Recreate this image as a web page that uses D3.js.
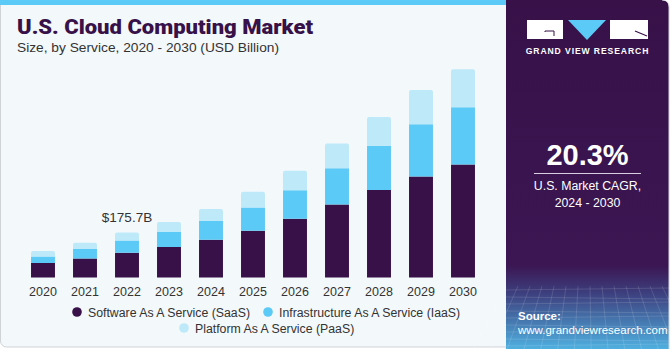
<html>
<head>
<script src="https://d3js.org/d3.v7.min.js"></script>
<style>
  body { margin: 0; background: #fff; }
  text { font-family: "Liberation Sans", Arial, sans-serif; }
</style>
</head>
<body>
<svg id="chart" width="671" height="350"></svg>
<script>
// values (USD Billion)
const years = ['2020','2021','2022','2023','2024','2025','2026','2027','2028','2029','2030'];
const saas  = [57, 74, 96.5, 119, 147, 183, 229, 285, 342, 394, 441];
const iaas  = [25, 37, 48, 60, 74, 90, 112, 142, 172, 204, 224];
const paas  = [21, 25, 31.2, 38, 46, 62, 76, 96, 113, 134, 148];
const seriesNames = ['Software As A Service (SaaS)', 'Infrastructure As A Service (IaaS)', 'Platform As A Service (PaaS)'];
const colors = ['#371148', '#5ccaf6', '#bde9f9'];
const callout = {year: '2022', label: '$175.7B'};

const svg = d3.select('svg#chart');

// panels
const defs = svg.append('defs');
const grad = defs.append('linearGradient').attr('id', 'side').attr('x1', 0).attr('x2', 0).attr('y1', 0).attr('y2', 1);
grad.append('stop').attr('offset', '0%').attr('stop-color', '#371148');
grad.append('stop').attr('offset', '76%').attr('stop-color', '#3b1652');
grad.append('stop').attr('offset', '84%').attr('stop-color', '#3d3f7e');
grad.append('stop').attr('offset', '100%').attr('stop-color', '#4fb0e0');

svg.append('rect').attr('x', 0.5).attr('y', -6).attr('width', 520).attr('height', 353)
  .attr('rx', 6).attr('fill', '#f3f8fb').attr('stroke', '#cfd3d6');
svg.append('rect').attr('x', 0).attr('y', 0).attr('width', 506).attr('height', 5).attr('fill', '#5ccaf6');
svg.append('rect').attr('x', 506).attr('y', 0).attr('width', 163).attr('height', 349)
  .attr('fill', 'url(#side)');
svg.append('path').attr('d', 'M662,0 Q669,0 669,7 L669,349').attr('stroke', '#cfd3d6').attr('fill', 'none');
svg.append('path').attr('d', 'M662,0 Q669,0 669,7 L669,0 Z').attr('fill', '#fff');

// faint grid at the bottom of the side panel
const grid = svg.append('g').attr('stroke', '#ffffff').attr('stroke-opacity', 0.18).attr('stroke-width', 0.7);
d3.range(290, 350, 7).forEach((y, i) => {
  grid.append('line').attr('x1', 506).attr('x2', 669).attr('y1', y).attr('y2', y + (i % 2 ? 2 : -2));
});
d3.range(506, 680, 12).forEach((x, i) => {
  grid.append('line').attr('x1', x).attr('x2', x + (x - 587) * 0.4).attr('y1', 286).attr('y2', 349);
});

// titles
svg.append('text').attr('x', 17).attr('y', 34).text('U.S. Cloud Computing Market')
  .attr('font-size', 20).attr('font-weight', 900).attr('fill', '#371148')
  .attr('textLength', 296).attr('lengthAdjust', 'spacingAndGlyphs')
  .style('font-family', 'Roboto, "Liberation Sans", sans-serif');
svg.append('text').attr('x', 17).attr('y', 52).text('Size, by Service, 2020 - 2030 (USD Billion)')
  .attr('font-size', 13.3).attr('fill', '#333')
  .attr('textLength', 262).attr('lengthAdjust', 'spacingAndGlyphs');

// scales
const x = d3.scaleBand().domain(years).range([22, 484]).paddingInner(0.43).paddingOuter(0.215);
const y = d3.scaleLinear().domain([0, 813]).range([277.5, 69.3]);

const table = years.map((yr, i) => ({year: yr, saas: saas[i], iaas: iaas[i], paas: paas[i]}));
const stack = d3.stack().keys(['saas', 'iaas', 'paas'])(table);

stack.forEach((layer, li) => {
  svg.append('g').selectAll('path').data(layer).join('path')
    .attr('fill', colors[li])
    .attr('d', d => {
      const x0 = x(d.data.year), w = x.bandwidth();
      const y0 = y(d[0]), y1 = y(d[1]);
      const r = li === 2 ? 2 : 0;
      return `M${x0},${y0} L${x0},${y1 + r} Q${x0},${y1} ${x0 + r},${y1} L${x0 + w - r},${y1} Q${x0 + w},${y1} ${x0 + w},${y1 + r} L${x0 + w},${y0} Z`;
    });
});

// callout
const ci = years.indexOf(callout.year);
svg.append('text').attr('x', x(callout.year) + x.bandwidth() / 2)
  .attr('y', y(saas[ci] + iaas[ci] + paas[ci]) - 10.5)
  .attr('text-anchor', 'middle').attr('font-size', 13.5).attr('fill', '#333').text(callout.label);

// x axis
const xAxis = svg.append('g').attr('transform', 'translate(0,279)')
  .call(d3.axisBottom(x).tickSize(0).tickPadding(8));
xAxis.select('.domain').remove();
xAxis.selectAll('text').attr('font-size', 12.5).attr('fill', '#333')
  .style('font-family', '"Liberation Sans", Arial, sans-serif');

// legend
const legendPos = [[77, 312], [268, 312], [184, 328]];
seriesNames.forEach((name, i) => {
  const g = svg.append('g').attr('transform', `translate(${legendPos[i][0]},${legendPos[i][1]})`);
  g.append('circle').attr('r', 4.8).attr('fill', colors[i]);
  g.append('text').attr('x', 11).attr('y', 4.5).attr('font-size', 12.3).attr('fill', '#333').text(name);
});

// logo
const logo = svg.append('g');
logo.append('rect').attr('x', 527).attr('y', 20).attr('width', 36).attr('height', 19).attr('fill', '#fff');
logo.append('path').attr('d', 'M545,31 L554,31 L554,36 M545,31 L545,32').attr('stroke', '#371148').attr('stroke-width', 1).attr('fill', 'none');
logo.append('path').attr('d', 'M568,20 L606,20 L587,40 Z').attr('fill', '#5ccaf6');
logo.append('rect').attr('x', 610).attr('y', 20).attr('width', 38).attr('height', 19).attr('fill', '#fff');
logo.append('path').attr('d', 'M635,31 L647,36').attr('stroke', '#371148').attr('stroke-width', 1.2);
svg.append('text').attr('x', 587.5).attr('y', 54).attr('text-anchor', 'middle')
  .attr('font-size', 8.6).attr('font-weight', 'bold').attr('letter-spacing', 0.9).attr('fill', '#fff')
  .text('GRAND VIEW RESEARCH');

// CAGR
svg.append('text').attr('x', 587.5).attr('y', 165).attr('text-anchor', 'middle')
  .attr('font-size', 29).attr('font-weight', 'bold').attr('fill', '#fff').text('20.3%');
svg.append('line').attr('x1', 534).attr('x2', 641).attr('y1', 173.5).attr('y2', 173.5)
  .attr('stroke', '#d8cfe0').attr('stroke-width', 1.2);
svg.append('text').attr('x', 587.5).attr('y', 190).attr('text-anchor', 'middle')
  .attr('font-size', 12.3).attr('fill', '#fff').text('U.S. Market CAGR,');
svg.append('text').attr('x', 587.5).attr('y', 207).attr('text-anchor', 'middle')
  .attr('font-size', 12.3).attr('fill', '#fff').text('2024 - 2030');

// source
svg.append('text').attr('x', 518).attr('y', 320).attr('font-size', 11.5).attr('font-weight', 'bold')
  .attr('fill', '#fff').text('Source:');
svg.append('text').attr('x', 518).attr('y', 334).attr('font-size', 11.5)
  .attr('fill', '#fff').text('www.grandviewresearch.com');
</script>
</body>
</html>
